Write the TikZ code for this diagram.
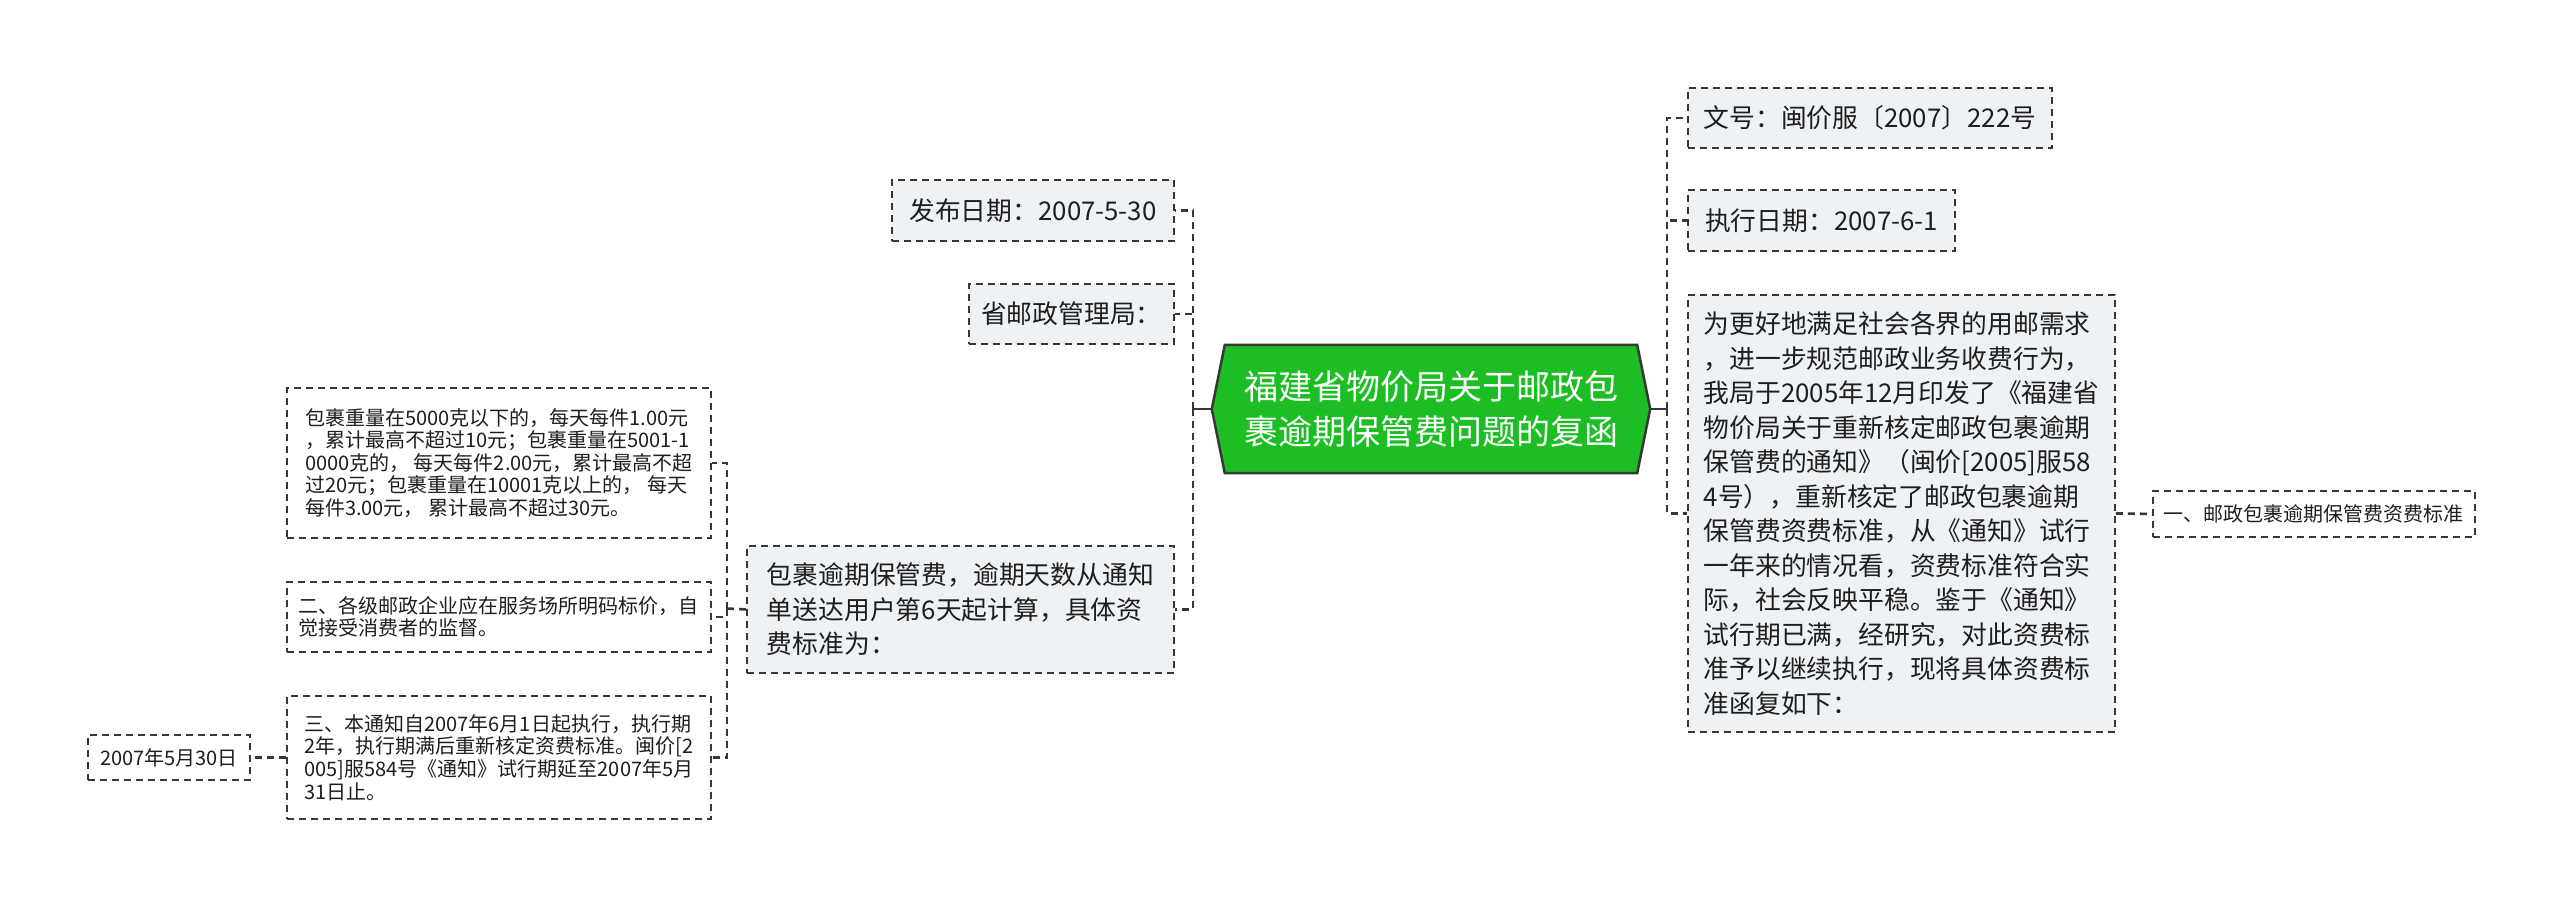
\documentclass[tikz,border=0pt]{standalone}
\usepackage{fontspec}
\setmainfont{Noto Sans CJK SC}
\usetikzlibrary{backgrounds}
\definecolor{boxfill}{RGB}{239,242,245}
\definecolor{linec}{RGB}{55,55,55}
\definecolor{txt}{RGB}{30,30,30}
\definecolor{rootgreen}{RGB}{28,190,36}
\begin{document}
\begin{tikzpicture}[x=1pt,y=-1pt,
  lvone/.style={draw=linec, line width=1.9pt, dash pattern=on 7pt off 5pt, fill=boxfill, text=txt, inner sep=0pt, align=left, anchor=north west, font=\fontsize{25.8pt}{34.5pt}\selectfont},
  lvtwo/.style={lvone, fill=white, font=\fontsize{20pt}{22.6pt}\selectfont},
  link/.style={draw=linec, line width=2.6pt, dash pattern=on 7pt off 5pt},
  trunk/.style={draw=linec, line width=2.8pt}]
\path[use as bounding box] (0,0) rectangle (2560,904);

% root
\node[text=white, align=center, inner sep=0pt, minimum width=438pt, minimum height=128pt,
  font=\fontsize{34pt}{45pt}\selectfont] (c) at (1431,409) {福建省物价局关于邮政包\\裹逾期保管费问题的复函};

% right side
\node[lvone, minimum width=364pt, minimum height=60pt] (r1) at (1687,87) {文号：闽价服〔2007〕222号};
\node[lvone, minimum width=267pt, minimum height=61pt] (r2) at (1687,189) {执行日期：2007-6-1};
\node[lvone, minimum width=427pt, minimum height=437pt] (r3) at (1687,294) {为更好地满足社会各界的用邮需求\\，进一步规范邮政业务收费行为，\\我局于2005年12月印发了《福建省\\物价局关于重新核定邮政包裹逾期\\保管费的通知》（闽价[2005]服58\\4号），重新核定了邮政包裹逾期\\保管费资费标准，从《通知》试行\\一年来的情况看，资费标准符合实\\际，社会反映平稳。鉴于《通知》\\试行期已满，经研究，对此资费标\\准予以继续执行，现将具体资费标\\准函复如下：};
\node[lvtwo, minimum width=322pt, minimum height=46pt] (r3a) at (2152,490) {一、邮政包裹逾期保管费资费标准};

% left side
\node[lvone, minimum width=282pt, minimum height=61pt] (l1) at (891,179) {发布日期：2007-5-30};
\node[lvone, minimum width=205pt, minimum height=60pt] (l2) at (968,283) {省邮政管理局：};
\node[lvone, minimum width=427pt, minimum height=127pt] (l3) at (746,545) {包裹逾期保管费，逾期天数从通知\\单送达用户第6天起计算，具体资\\费标准为：};
\node[lvtwo, minimum width=424pt, minimum height=150pt] (la) at (286,387) {包裹重量在5000克以下的，每天每件1.00元\\，累计最高不超过10元；包裹重量在5001-1\\0000克的， 每天每件2.00元，累计最高不超\\过20元；包裹重量在10001克以上的， 每天\\每件3.00元， 累计最高不超过30元。};
\node[lvtwo, minimum width=424pt, minimum height=70pt] (lb) at (286,581) {二、各级邮政企业应在服务场所明码标价，自\\觉接受消费者的监督。};
\node[lvtwo, minimum width=424pt, minimum height=123pt] (lc) at (286,695) {三、本通知自2007年6月1日起执行，执行期\\2年，执行期满后重新核定资费标准。闽价[2\\005]服584号《通知》试行期延至2007年5月\\31日止。};
\node[lvtwo, minimum width=162pt, minimum height=45pt] (ld) at (87,734) {2007年5月30日};

% connectors
\coordinate (sr) at (1667,409);
\coordinate (sl) at (1193,409);
\coordinate (sl2) at (727,608.5);
\draw[trunk] (c.east) -- (sr);
\draw[trunk] (c.west) -- (sl);
\draw[link] (sr) |- (r1.west);
\draw[link] (sr) |- (r2.west);
\draw[link] (sr) |- (r3.west);
\draw[link] (r3.east) -- (r3a.west);
\draw[link] (sl) |- (l1.east);
\draw[link] (sl) |- (l2.east);
\draw[link] (sl) |- (l3.east);
\draw[link] (l3.west) -- (sl2);
\draw[link] (sl2) |- (la.east);
\draw[link] (sl2) |- (lb.east);
\draw[link] (sl2) |- (lc.east);
\draw[link] (lc.west) -- (ld.east);

\begin{pgfonlayer}{background}
\fill[white] (0,0) rectangle (2560,904);
\draw[line width=2.5pt, draw=linec, fill=rootgreen, line join=miter]
  (c.west) -- ([xshift=13pt]c.north west) -- ([xshift=-13pt]c.north east) -- (c.east)
  -- ([xshift=-13pt]c.south east) -- ([xshift=13pt]c.south west) -- cycle;
\end{pgfonlayer}
\end{tikzpicture}
\end{document}
